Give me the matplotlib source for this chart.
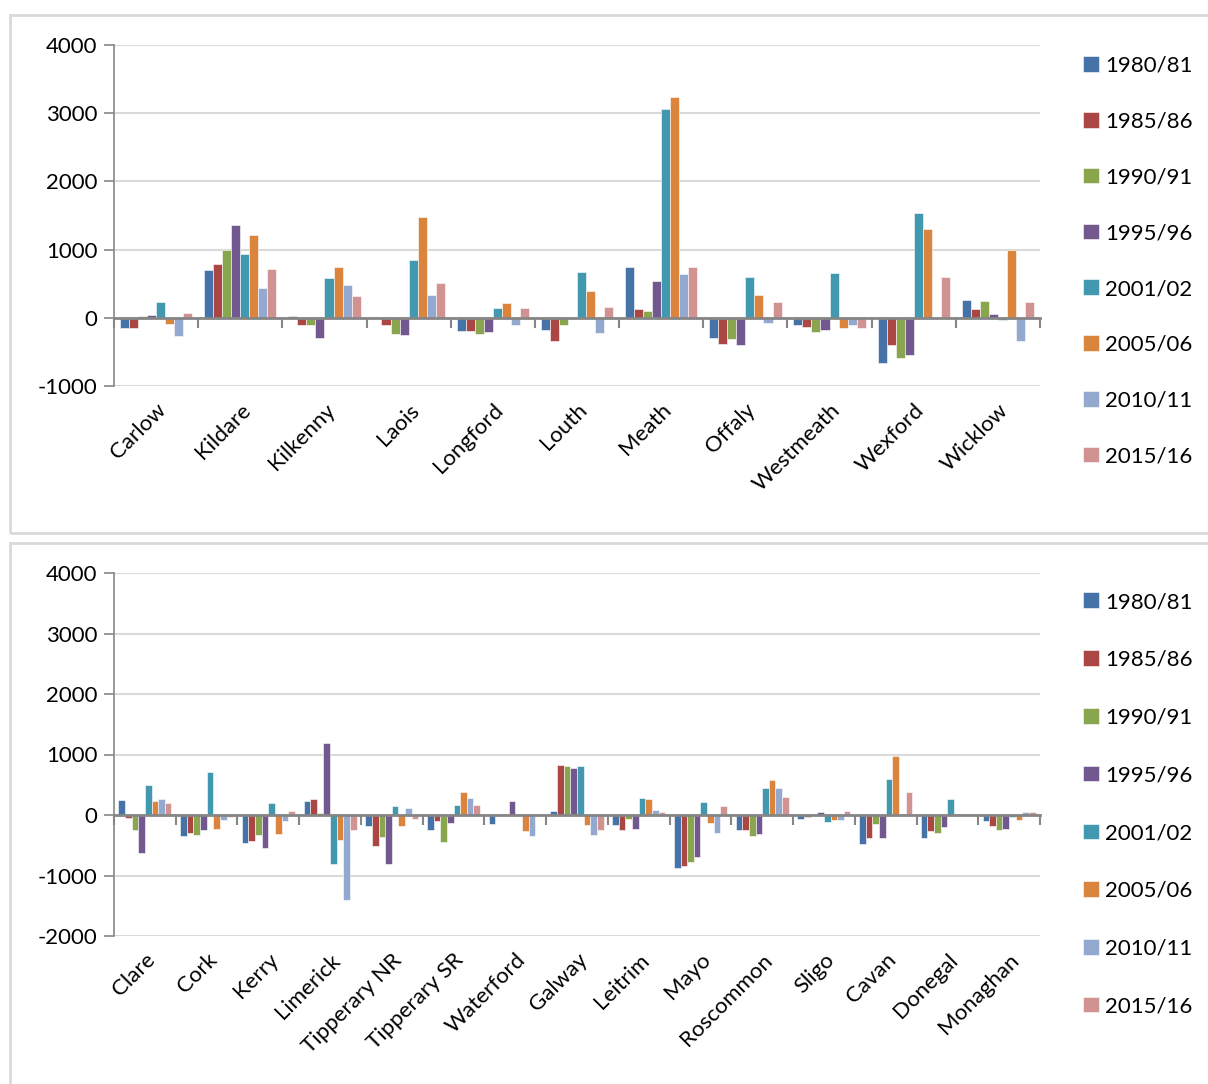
import matplotlib.pyplot as plt
import numpy as np
from matplotlib.patches import Rectangle

plt.rcParams['font.family'] = ['Lato', 'DejaVu Sans']
plt.rcParams['axes.unicode_minus'] = False

years = ['1980/81', '1985/86', '1990/91', '1995/96', '2001/02', '2005/06', '2010/11', '2015/16']
colors = ['#4572A7', '#AA4643', '#89A54E', '#71588F', '#4198AF', '#DB843D', '#93A9CF', '#D19392']

# top chart: counties (rows = periods, cols = counties)
top_counties = ['Carlow', 'Kildare', 'Kilkenny', 'Laois', 'Longford', 'Louth',
                'Meath', 'Offaly', 'Westmeath', 'Wexford', 'Wicklow']
top_vals = [
    [-150, 695, 30, 0, -195, -175, 750, -300, -105, -660, 256],      # 1980/81
    [-150, 790, -100, -100, -195, -335, 135, -385, -140, -395, 135],  # 1985/86
    [20, 1000, -105, -235, -235, -100, 95, -315, -215, -595, 240],    # 1990/91
    [35, 1360, -295, -255, -215, 0, 537, -405, -175, -545, 60],      # 1995/96
    [237, 937, 587, 848, 143, 675, 3060, 592, 660, 1533, -30],       # 2001/02
    [-90, 1207, 750, 1484, 212, 394, 3237, 340, -155, 1300, 1000],   # 2005/06
    [-265, 444, 478, 340, -100, -230, 636, -70, -100, 10, -345],     # 2010/11
    [64, 720, 325, 503, 138, 163, 744, 237, -155, 601, 227],         # 2015/16
]

# bottom chart
bot_counties = ['Clare', 'Cork', 'Kerry', 'Limerick', 'Tipperary NR', 'Tipperary SR',
                'Waterford', 'Galway', 'Leitrim', 'Mayo', 'Roscommon', 'Sligo',
                'Cavan', 'Donegal', 'Monaghan']
bot_vals = [
    [241, -340, -467, 230, -175, -241, -148, 66, -165, -878, -252, -60, -478, -373, -93],
    [-44, -291, -423, 258, -505, -99, 0, 823, -247, -835, -252, -38, -379, -264, -187],
    [-247, -335, -324, 27, -362, -445, 0, 818, -66, -769, -340, 0, -154, -296, -247],
    [-631, -252, -538, 1191, -807, -126, 230, 769, -225, -692, -318, 49, -384, -192, -225],
    [500, 703, 203, -818, 148, 159, 0, 807, 285, 220, 445, -115, 593, 258, -27],
    [225, -225, -307, -417, -187, 384, -258, -170, 264, -126, 582, -77, 983, 0, -77],
    [269, -88, -104, -1400, 112, 274, -346, -335, 82, -291, 445, -77, 0, 0, 44],
    [198, -27, 60, -252, -74, 165, 0, -247, 44, 154, 291, 60, 384, -5, 49],
]

W, H = 1208, 1084
fig = plt.figure(figsize=(W / 100, H / 100), dpi=100)

# panel frames
for (y0, y1) in [(15, 533), (543, 1090)]:
    fig.patches.append(Rectangle((10 / W, 1 - y1 / H), (W - 8) / W, (y1 - y0) / H,
                                 transform=fig.transFigure, fill=False,
                                 edgecolor='#D9D9D9', linewidth=2))

grid_c = '#D9D9D9'
axis_c = '#868686'
fs = 16


def draw(ax, cats, vals, ylim, yticks, spacing, leg_y):
    n = len(cats)
    x = np.arange(n)
    group = 0.86
    bw = group / len(years)
    for i, (yr, c) in enumerate(zip(years, colors)):
        ax.bar(x - group / 2 + bw * (i + 0.5), vals[i], bw, color=c, label=yr,
               edgecolor='white', linewidth=0.4, zorder=3)
    ax.set_xlim(-0.5, n - 0.5)
    ax.set_ylim(*ylim)
    ax.set_yticks(yticks)
    ax.yaxis.grid(True, color=grid_c, linewidth=1.5, zorder=0)
    for s in ['top', 'right']:
        ax.spines[s].set_visible(False)
    ax.spines['left'].set_color(axis_c)
    ax.spines['left'].set_linewidth(1.2)
    ax.spines['bottom'].set_position(('data', 0))
    ax.spines['bottom'].set_color(axis_c)
    ax.spines['bottom'].set_linewidth(2)
    ax.spines['bottom'].set_zorder(4)
    ax.set_xticks(np.arange(n + 1) - 0.5)
    ax.tick_params(axis='x', length=7, width=1.5, color=axis_c, labelbottom=False)
    ax.tick_params(axis='y', length=7, width=1.2, color=axis_c, labelsize=fs, pad=5)
    sec = ax.secondary_xaxis(0)
    sec.spines['bottom'].set_visible(False)
    sec.set_xticks(x)
    sec.set_xticklabels(cats, rotation=45, ha='right', rotation_mode='anchor', fontsize=fs)
    sec.tick_params(length=0, pad=10)
    ax.legend(loc='upper left', bbox_to_anchor=(1.037, leg_y), frameon=False, fontsize=fs,
              handlelength=0.7, handleheight=0.7, handletextpad=0.3,
              labelspacing=spacing, borderaxespad=0)


ax1 = fig.add_axes([114 / W, 1 - 386 / H, 926 / W, 341 / H])
draw(ax1, top_counties, top_vals, (-1000, 4000), range(-1000, 4001, 1000), 1.61, 0.994)

ax2 = fig.add_axes([114 / W, 1 - 936 / H, 926 / W, 363 / H])
draw(ax2, bot_counties, bot_vals, (-2000, 4000), range(-2000, 4001, 1000), 1.70, 0.972)

fig.savefig('out.png', dpi=100)
